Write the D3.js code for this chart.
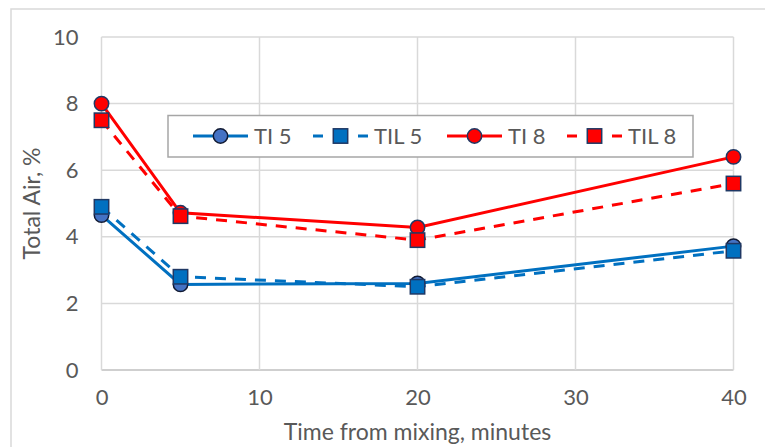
<!DOCTYPE html>
<html><head><meta charset="utf-8">
<script src="https://cdn.jsdelivr.net/npm/d3@7/dist/d3.min.js"></script>
<style>
html,body{margin:0;padding:0;background:#fff;}
text{font-family:Lato,"Open Sans",sans-serif;fill:#595959;}
</style></head>
<body>
<svg id="c" width="765" height="447"></svg>
<script>
const times = [0, 5, 20, 40];
const ti5  = [4.65, 2.57, 2.6, 3.72];
const til5 = [4.9, 2.8, 2.5, 3.58];
const ti8  = [8.0, 4.72, 4.28, 6.4];
const til8 = [7.5, 4.62, 3.9, 5.6];
const xTicks = [0, 10, 20, 30, 40];
const yTicks = [0, 2, 4, 6, 8, 10];
const seriesNames = ["TI 5", "TIL 5", "TI 8", "TIL 8"];

const series = [
  {name: seriesNames[0], values: ti5,  color: "#0070C0", dash: null,  shape: "circle", fill: "#4472C4", stroke: "#111A33"},
  {name: seriesNames[1], values: til5, color: "#0070C0", dash: "11,9", shape: "square", fill: "#0070C0", stroke: "#1F3864"},
  {name: seriesNames[2], values: ti8,  color: "#FF0000", dash: null,  shape: "circle", fill: "#FF0000", stroke: "#1F3864"},
  {name: seriesNames[3], values: til8, color: "#FF0000", dash: "11,9", shape: "square", fill: "#FF0000", stroke: "#1F3864"}
];

const svg = d3.select("#c");
const L = 101.5, R = 733.5, T = 37, B = 370;
const x = d3.scaleLinear().domain([0, 40]).range([L, R]);
const y = d3.scaleLinear().domain([0, 10]).range([B, T]);

// outer chart border
svg.append("rect").attr("x", 11).attr("y", 9).attr("width", 800).attr("height", 500)
  .attr("fill", "none").attr("stroke", "#D9D9D9").attr("stroke-width", 1.5);

// gridlines
svg.append("g").selectAll("line").data(yTicks).join("line")
  .attr("x1", L).attr("x2", R).attr("y1", d => y(d)).attr("y2", d => y(d))
  .attr("stroke", d => d === 0 ? "#BFBFBF" : "#D9D9D9").attr("stroke-width", 1.5);
svg.append("g").selectAll("line").data(xTicks).join("line")
  .attr("y1", T).attr("y2", B).attr("x1", d => x(d)).attr("x2", d => x(d))
  .attr("stroke", "#D9D9D9").attr("stroke-width", 1.5);

// axes (labels only)
const yAxis = d3.axisLeft(y).tickValues(yTicks).tickSize(0).tickPadding(23);
const gy = svg.append("g").attr("transform", `translate(${L},0)`).call(yAxis);
gy.select(".domain").remove();
gy.selectAll("text").style("font-size", "22px").attr("fill", "#595959");

const xAxis = d3.axisBottom(x).tickValues(xTicks).tickSize(0).tickPadding(19);
const gx = svg.append("g").attr("transform", `translate(0,${B})`).call(xAxis);
gx.select(".domain").remove();
gx.selectAll("text").style("font-size", "22px").attr("fill", "#595959");

// axis titles
svg.append("text").attr("x", (L + R) / 2).attr("y", 440).attr("text-anchor", "middle")
  .style("font-size", "23px").text("Time from mixing, minutes");
svg.append("text").attr("transform", `translate(40,${(T + B) / 2}) rotate(-90)`)
  .attr("text-anchor", "middle").style("font-size", "23px").text("Total Air, %");

const line = d3.line().x((d, i) => x(times[i])).y(d => y(d));

function drawMarker(g, s, cx, cy) {
  if (s.shape === "circle") {
    g.append("circle").attr("cx", cx).attr("cy", cy).attr("r", 7.2)
      .attr("fill", s.fill).attr("stroke", s.stroke).attr("stroke-width", 1.5);
  } else {
    g.append("rect").attr("x", cx - 7.2).attr("y", cy - 7.2).attr("width", 14.4).attr("height", 14.4)
      .attr("fill", s.fill).attr("stroke", s.stroke).attr("stroke-width", 1.5);
  }
}

// legend
const lg = svg.append("g");
lg.append("rect").attr("x", 168).attr("y", 115.5).attr("width", 525).attr("height", 41.5)
  .attr("fill", "#fff").attr("stroke", "#A6A6A6").attr("stroke-width", 1.5);
const legX = [193, 313, 447, 567];
const legY = 136;
series.forEach((s, i) => {
  const g = lg.append("g");
  g.append("line").attr("x1", legX[i]).attr("x2", legX[i] + 55).attr("y1", legY).attr("y2", legY)
    .attr("stroke", s.color).attr("stroke-width", 3)
    .attr("stroke-dasharray", s.dash ? "10,15,10" : null);
  drawMarker(g, s, legX[i] + 27.5, legY);
  g.append("text").attr("x", legX[i] + 61).attr("y", legY).attr("dy", "0.36em")
    .style("font-size", "22px").text(s.name);
});

// series
series.forEach(s => {
  const g = svg.append("g");
  g.append("path").datum(s.values).attr("d", line).attr("fill", "none")
    .attr("stroke", s.color).attr("stroke-width", 3)
    .attr("stroke-dasharray", s.dash);
  s.values.forEach((v, i) => drawMarker(g, s, x(times[i]), y(v)));
});
</script>
</body></html>
